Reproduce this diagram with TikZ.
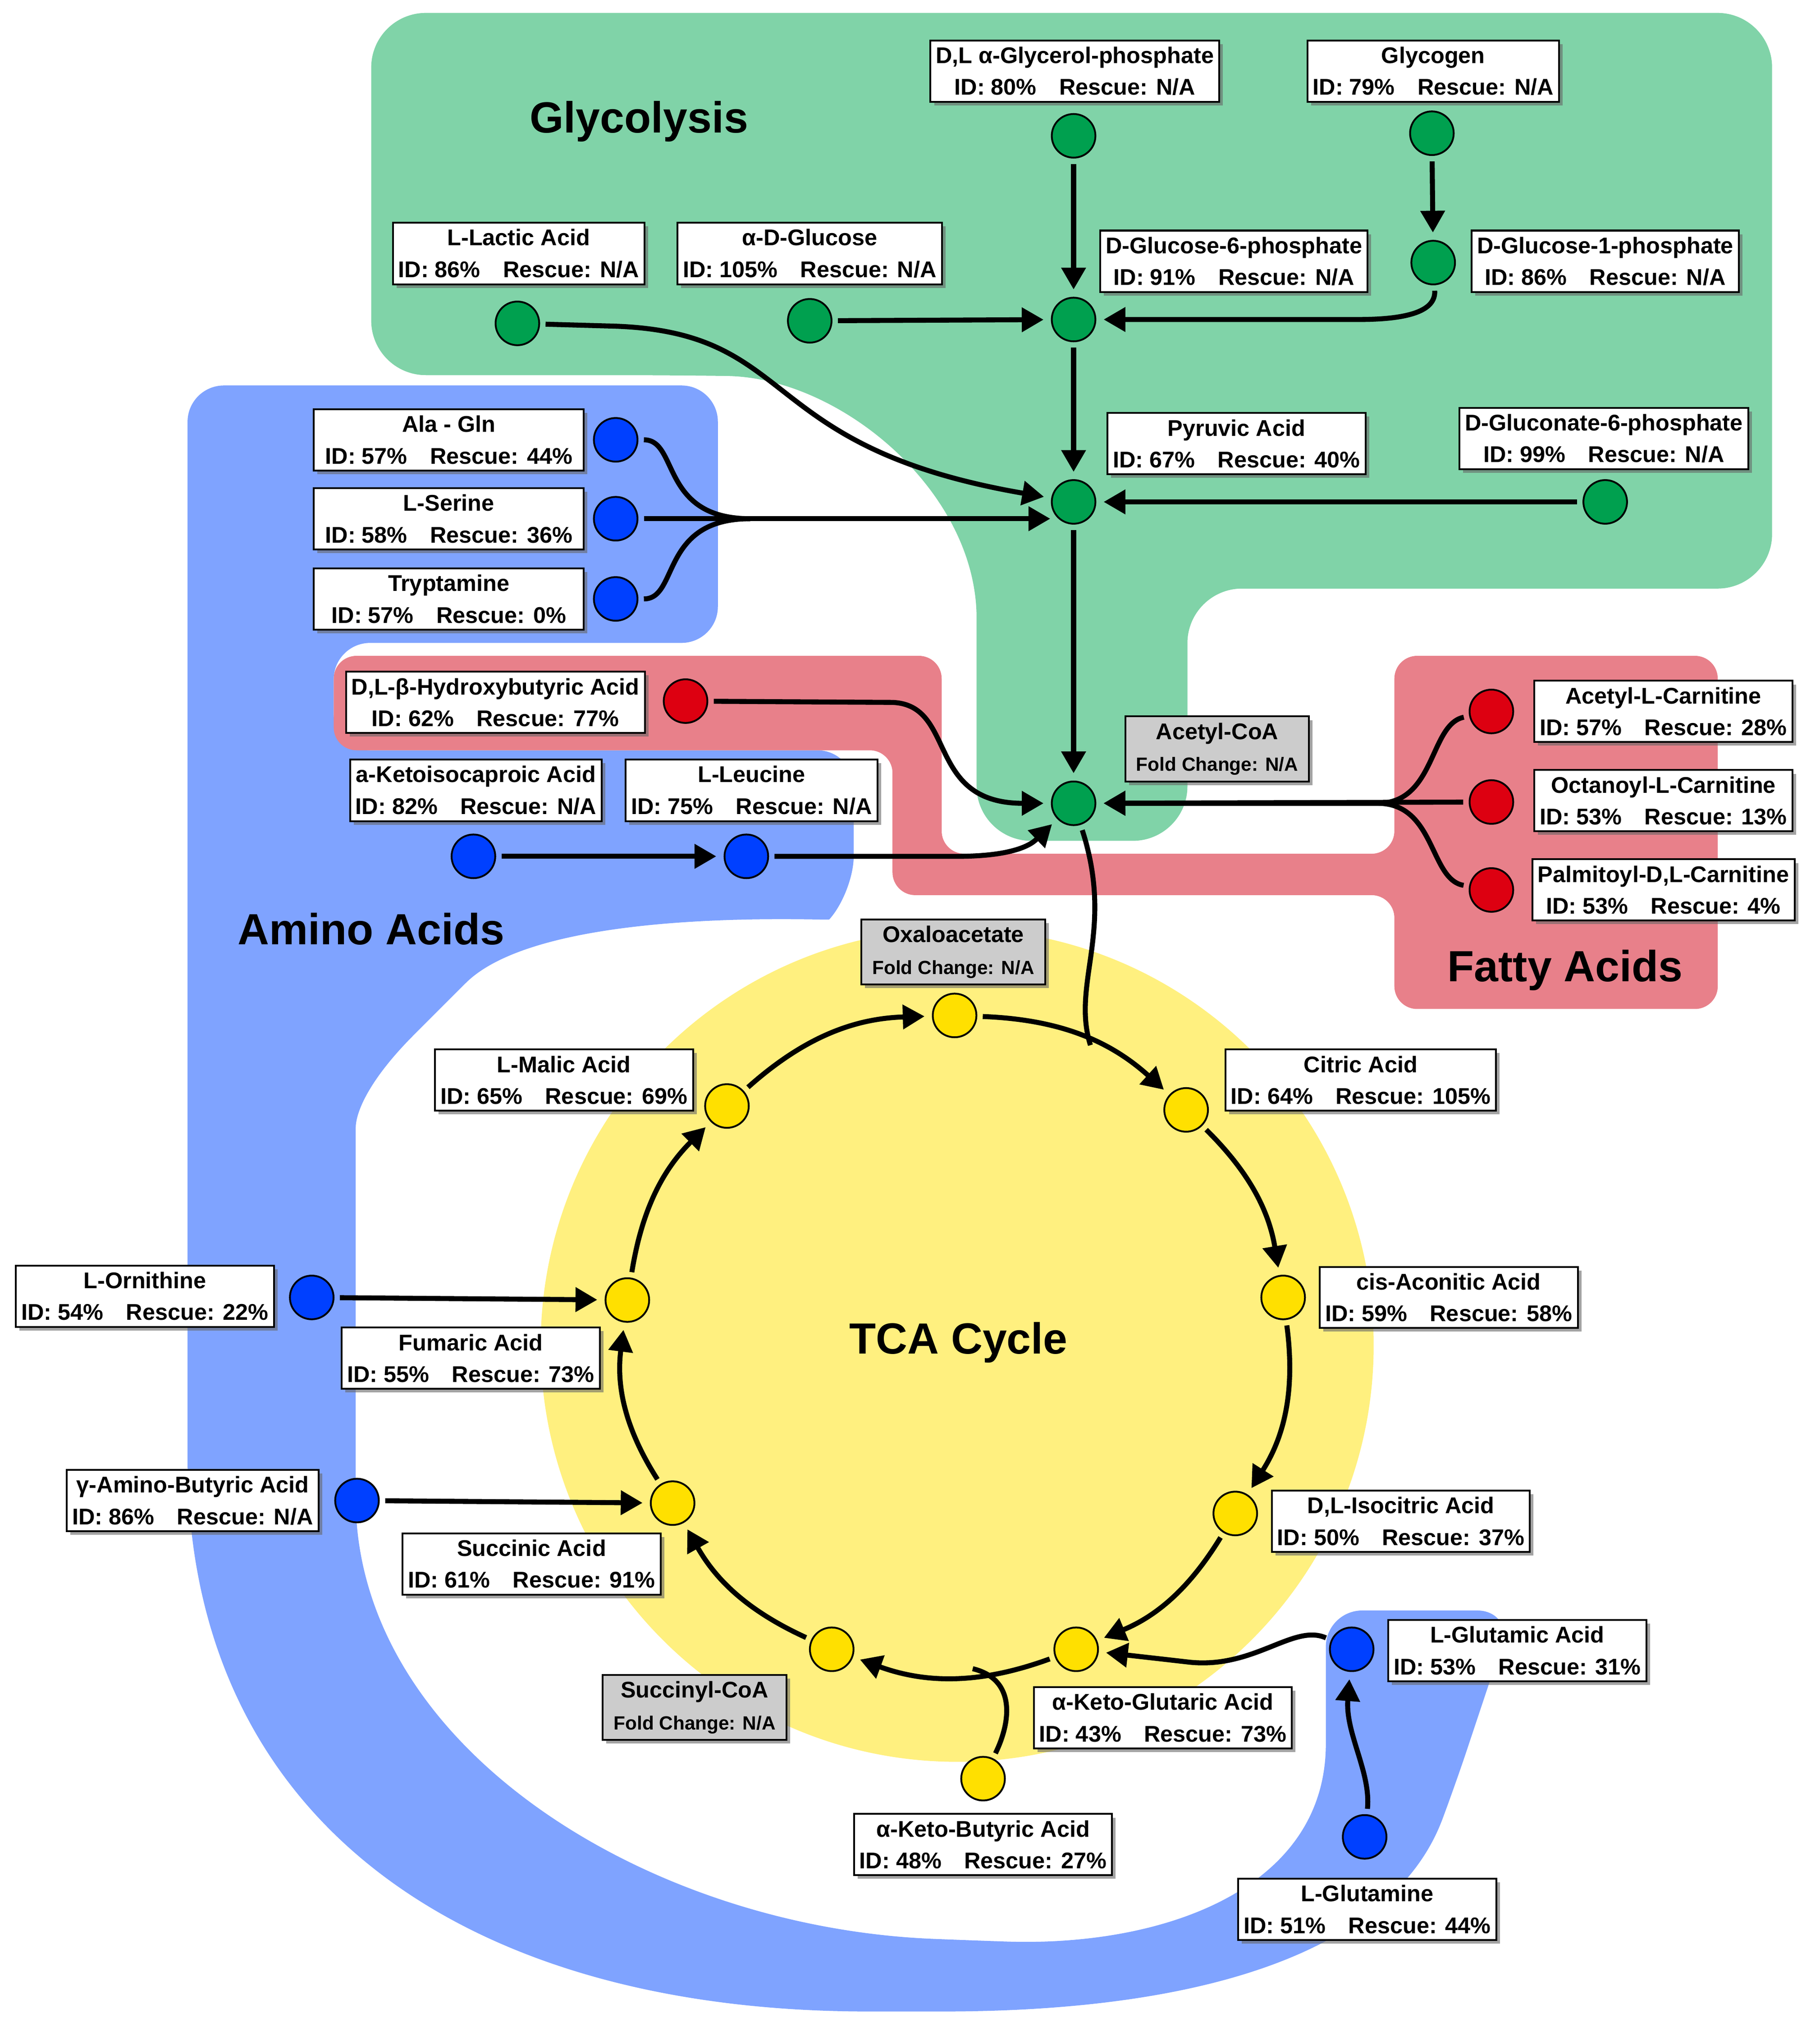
\documentclass[tikz,border=0pt]{standalone}
\usepackage{fontspec}
\setmainfont{Liberation Sans}
\usetikzlibrary{arrows.meta,shadows,calc}
\definecolor{gReg}{HTML}{80D3A8}
\definecolor{bReg}{HTML}{7FA3FF}
\definecolor{rReg}{HTML}{E8808A}
\definecolor{yReg}{HTML}{FFF07F}
\definecolor{gDot}{HTML}{00A04F}
\definecolor{bDot}{HTML}{0040FF}
\definecolor{rDot}{HTML}{DD0011}
\definecolor{yDot}{HTML}{FFE000}
\newcommand\metab[3]{#1\\ID: #2\%\hspace{1em}Rescue: #3}
\newcommand\foldc[1]{#1\\{\fontsize{21}{34}\selectfont Fold Change: N/A}}
\tikzset{
 box/.style={draw=black,line width=2pt,fill=white,align=center,font=\fontsize{25}{35}\selectfont\bfseries,inner xsep=6pt,inner ysep=7pt,drop shadow={shadow xshift=4pt,shadow yshift=-4pt,fill=black!60,opacity=0.6}},
 gbox/.style={box,fill=black!20,inner xsep=12pt},
 dot/.style={circle,draw=black,line width=2pt,minimum size=48pt,inner sep=0pt},
 gd/.style={dot,fill=gDot}, bd/.style={dot,fill=bDot}, rd/.style={dot,fill=rDot}, yd/.style={dot,fill=yDot},
 arr/.style={line width=5.5pt,-{Triangle[length=24pt,width=26pt]},shorten >=8pt,shorten <=6pt},
 ln/.style={line width=5.5pt,shorten <=6pt},
 ttl/.style={font=\fontsize{48}{52}\selectfont\bfseries}
}
\begin{document}
\begin{tikzpicture}[x=0.05cm,y=-0.05cm]
\useasboundingbox (0,0) rectangle (1407,1567);
\fill[bReg,rounded corners=40] (145,700) -- (145,298) -- (555,298) -- (555,497) -- (258,497) -- (258,580) -- (660,580) -- (660,690)
  .. controls (640,712) and (420,700) .. (340,780) .. controls (285,835) and (275,860) .. (275,900) -- (275,1130)
  .. controls (275,1350) and (500,1490) .. (750,1500) .. controls (900,1505) and (1025,1460) .. (1025,1320) -- (1025,1245) -- (1170,1245)
  -- (1125,1380) .. controls (1080,1500) and (950,1555) .. (700,1555) .. controls (350,1555) and (145,1400) .. (145,1100) -- cycle;
\fill[rReg,rounded corners=25] (258,507) -- (728,507) -- (728,660) -- (1078,660) -- (1078,507) -- (1328,507) -- (1328,780) -- (1078,780) -- (1078,692) -- (690,692) -- (690,580) -- (258,580) -- cycle;
\fill[gReg,rounded corners=60] (287,10) -- (1370,10) -- (1370,455) -- (918,455) -- (918,650) -- (755,650) -- (755,520)
  .. controls (755,380) and (650,292) .. (520,290) -- (287,290) -- cycle;
\fill[yReg] (740,1040) circle [radius=16.1cm];
\node[ttl] (tg) at (494,94) {Glycolysis};
\node[ttl] (ta) at (287,718) {Amino Acids};
\node[ttl] (tf) at (1210,750) {Fatty Acids};
\node[ttl] (tt) at (741,1038) {TCA Cycle};
\node[gd] (glp) at (830,105) {};
\node[gd] (gly) at (1107,103) {};
\node[gd] (g1) at (1108,203) {};
\node[gd] (g6) at (830,247) {};
\node[gd] (lac) at (400,250) {};
\node[gd] (glc) at (626,248) {};
\node[gd] (pyr) at (830,388) {};
\node[gd] (gcn) at (1241,388) {};
\node[gd] (ac) at (830,621) {};
\node[bd] (ag) at (476,340) {};
\node[bd] (ser) at (476,401) {};
\node[bd] (try) at (476,463) {};
\node[bd] (kic) at (366,662) {};
\node[bd] (leu) at (577,662) {};
\node[bd] (orn) at (241,1003) {};
\node[bd] (gab) at (276,1160) {};
\node[bd] (glu) at (1045,1275) {};
\node[bd] (gln) at (1055,1420) {};
\node[rd] (bhb) at (530,542) {};
\node[rd] (c1) at (1153,550) {};
\node[rd] (c2) at (1153,620) {};
\node[rd] (c3) at (1153,688) {};
\node[yd] (oxa) at (738,785) {};
\node[yd] (cit) at (917,858) {};
\node[yd] (cis) at (992,1003) {};
\node[yd] (iso) at (955,1170) {};
\node[yd] (akg) at (832,1275) {};
\node[yd] (sco) at (643,1275) {};
\node[yd] (suc) at (520,1162) {};
\node[yd] (fum) at (485,1005) {};
\node[yd] (mal) at (562,855) {};
\node[yd] (akb) at (760,1375) {};
\node[box] (bglp) at (831,55) {\metab{D,L α-Glycerol-phosphate}{80}{N/A}};
\node[box] (bgly) at (1108,55) {\metab{Glycogen}{79}{N/A}};
\node[box] (blac) at (401,196) {\metab{L-Lactic Acid}{86}{N/A}};
\node[box] (bglc) at (626,196) {\metab{α-D-Glucose}{105}{N/A}};
\node[box] (bg6) at (954,202) {\metab{D-Glucose-6-phosphate}{91}{N/A}};
\node[box] (bg1) at (1241,202) {\metab{D-Glucose-1-phosphate}{86}{N/A}};
\node[box] (bpyr) at (956,343) {\metab{Pyruvic Acid}{67}{40\%}};
\node[box] (bgcn) at (1240,339) {\metab{D-Gluconate-6-phosphate}{99}{N/A}};
\node[box,minimum width=297pt] (bag) at (347,340) {\metab{Ala - Gln}{57}{44\%}};
\node[box,minimum width=297pt] (bser) at (347,401) {\metab{L-Serine}{58}{36\%}};
\node[box,minimum width=297pt] (btry) at (347,463) {\metab{Tryptamine}{57}{0\%}};
\node[box] (bbhb) at (383,543) {\metab{D,L-β-Hydroxybutyric Acid}{62}{77\%}};
\node[box] (bkic) at (368,611) {\metab{a-Ketoisocaproic Acid}{82}{N/A}};
\node[box] (bleu) at (581,611) {\metab{L-Leucine}{75}{N/A}};
\node[gbox] (bac) at (941,579) {\foldc{Acetyl-CoA}};
\node[box] (bc1) at (1286,550) {\metab{Acetyl-L-Carnitine}{57}{28\%}};
\node[box] (bc2) at (1286,619) {\metab{Octanoyl-L-Carnitine}{53}{13\%}};
\node[box] (bc3) at (1286,688) {\metab{Palmitoyl-D,L-Carnitine}{53}{4\%}};
\node[gbox] (boxa) at (737,736) {\foldc{Oxaloacetate}};
\node[box] (bmal) at (436,835) {\metab{L-Malic Acid}{65}{69\%}};
\node[box] (bcit) at (1052,835) {\metab{Citric Acid}{64}{105\%}};
\node[box] (bcis) at (1120,1003) {\metab{cis-Aconitic Acid}{59}{58\%}};
\node[box] (born) at (112,1002) {\metab{L-Ornithine}{54}{22\%}};
\node[box] (bfum) at (364,1050) {\metab{Fumaric Acid}{55}{73\%}};
\node[box] (bgab) at (149,1160) {\metab{γ-Amino-Butyric Acid}{86}{N/A}};
\node[box] (biso) at (1083,1176) {\metab{D,L-Isocitric Acid}{50}{37\%}};
\node[box] (bsuc) at (411,1209) {\metab{Succinic Acid}{61}{91\%}};
\node[box] (bglu) at (1173,1276) {\metab{L-Glutamic Acid}{53}{31\%}};
\node[box] (bakg) at (899,1328) {\metab{α-Keto-Glutaric Acid}{43}{73\%}};
\node[gbox] (bsco) at (537,1320) {\foldc{Succinyl-CoA}};
\node[box] (bakb) at (760,1426) {\metab{α-Keto-Butyric Acid}{48}{27\%}};
\node[box] (bgln) at (1057,1476) {\metab{L-Glutamine}{51}{44\%}};
\coordinate (pyrin) at (812,401);
\coordinate (mrg) at (580,401);
\draw[arr] (glp) -- (g6);
\draw[arr] (gly) -- (g1);
\draw[arr] (g1) .. controls (1110,240) and (1090,247) .. (1050,247) -- (g6);
\draw[arr] (glc) -- (g6);
\draw[arr] (g6) -- (pyr);
\draw[arr] (lac) -- (470,252) .. controls (620,255) and (580,345) .. (pyr);
\draw[arr] (gcn) -- (pyr);
\draw[ln] (ag) .. controls (525,340) and (510,401) .. (mrg);
\draw[arr,shorten >=0pt] (ser) -- (pyrin);
\draw[ln] (try) .. controls (525,463) and (510,401) .. (mrg);
\draw[arr] (pyr) -- (ac);
\draw[arr] (bhb) -- (690,543) .. controls (740,545) and (715,621) .. (ac);
\draw[arr] (kic) -- (leu);
\draw[arr] (leu) -- (740,662) .. controls (790,662) and (800,650) .. (ac);
\draw[arr] (c1) .. controls (1105,560) and (1110,621) .. (1065,621) -- (ac);
\draw[arr] (c2) -- (ac);
\draw[arr] (c3) .. controls (1105,680) and (1110,621) .. (1065,621) -- (ac);
\coordinate (jn) at (843,808);
\draw[ln] (ac) .. controls (862,720) and (828,760) .. (jn);
\draw[arr] (oxa) to[bend left=20] (cit);
\draw[arr] (cit) to[bend left=18] (cis);
\draw[arr] (cis) to[bend left=20] (iso);
\draw[arr] (iso) to[bend left=18] (akg);
\draw[arr] (akg) to[bend left=20] (sco);
\draw[arr] (sco) to[bend left=18] (suc);
\draw[arr] (suc) to[bend left=20] (fum);
\draw[arr] (fum) to[bend left=18] (mal);
\draw[arr] (mal) to[bend left=20] (oxa);
\coordinate (jk) at (752,1290);
\draw[ln] (akb) .. controls (782,1330) and (785,1298) .. (jk);
\draw[arr] (glu) .. controls (1000,1255) and (970,1290) .. (920,1285) -- (akg);
\draw[arr] (gln) .. controls (1060,1370) and (1040,1340) .. (glu);
\draw[arr] (orn) -- (fum);
\draw[arr] (gab) -- (suc);
\end{tikzpicture}
\end{document}
